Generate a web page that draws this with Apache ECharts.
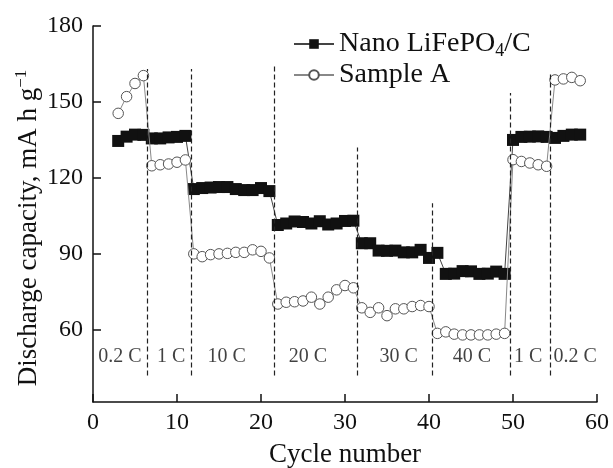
<!DOCTYPE html>
<html>
<head>
<meta charset="utf-8">
<script src="https://cdn.jsdelivr.net/npm/echarts@6.0.0/dist/echarts.min.js"></script>
<style>
  html, body { margin: 0; padding: 0; background: #fff; }
  #main { width: 613px; height: 468px; }
</style>
</head>
<body>
<div id="main"></div>
<script>
// cycle numbers (x)
var cycles = [3, 4, 5, 6,
  7, 8, 9, 10, 11,
  12, 13, 14, 15, 16, 17, 18, 19, 20, 21,
  22, 23, 24, 25, 26, 27, 28, 29, 30, 31,
  32, 33, 34, 35, 36, 37, 38, 39, 40, 41,
  42, 43, 44, 45, 46, 47, 48, 49,
  50, 51, 52, 53, 54,
  55, 56, 57, 58];

// Nano LiFePO4/C, mA h g-1
var nanoCap = [134.6, 136.3, 137.1, 137.0,
  135.6, 135.6, 136.0, 136.2, 136.6,
  115.6, 116.0, 116.2, 116.4, 116.4, 115.6, 115.2, 115.2, 116.0, 114.8,
  101.4, 102.0, 102.8, 102.6, 102.0, 102.9, 101.6, 102.0, 103.0, 103.1,
  94.2, 94.2, 91.3, 91.2, 91.3, 90.6, 90.6, 91.6, 88.4, 90.4,
  82.1, 82.2, 83.2, 83.1, 82.1, 82.2, 83.0, 82.1,
  135.0, 136.2, 136.3, 136.4, 136.2,
  135.8, 136.6, 137.1, 137.1];

// Sample A cycles and capacity
var sampleCycles = [3, 4, 5, 6,
  7, 8, 9, 10, 11,
  12, 13, 14, 15, 16, 17, 18, 19, 20, 21,
  22, 23, 24, 25, 26, 27, 28, 29, 30, 31,
  32, 33, 34, 35, 36, 37, 38, 39, 40,
  41, 42, 43, 44, 45, 46, 47, 48, 49,
  50, 51, 52, 53, 54,
  55, 56, 57, 58];
var sampleCap = [145.5, 152.1, 157.3, 160.4,
  124.8, 125.2, 125.5, 126.2, 127.1,
  90.0, 88.9, 89.7, 90.0, 90.2, 90.6, 90.6, 91.6, 91.0, 88.4,
  70.2, 70.9, 71.1, 71.4, 72.9, 70.2, 72.9, 75.8, 77.5, 76.6,
  68.7, 66.9, 68.7, 65.6, 68.3, 68.3, 69.2, 69.6, 69.2,
  58.6, 59.2, 58.3, 58.0, 58.0, 58.0, 58.0, 58.3, 58.6,
  127.2, 126.5, 125.9, 125.2, 124.6,
  158.7, 159.1, 159.7, 158.4];

// C-rate labels and divider lines
var rateNames = ['0.2 C', '1 C', '10 C', '20 C', '30 C', '40 C', '1 C', '0.2 C'];
var rateX = [3.2, 9.3, 15.9, 25.6, 36.4, 45.1, 51.8, 57.4];
var rateY = 49.4;
var dividerX = [6.5, 11.7, 21.6, 31.4, 40.4, 49.7, 54.4];
var dividerTop = [163, 163, 164, 132, 110, 153.5, 161.3];
var dividerBottom = 42;

var yTicks = [60, 90, 120, 150, 180];

var nanoName = 'Nano LiFePO4/C';
var sampleName = 'Sample A';
var serif = '"Liberation Serif", "DejaVu Serif", serif';

(function(){
    var myChart = echarts.init(document.getElementById('main'), null, {renderer: 'canvas'});

    var nanoData = cycles.map(function(c, i){ return [c, nanoCap[i]]; });
    var sampleData = sampleCycles.map(function(c, i){ return [c, sampleCap[i]]; });
    var rateData = rateNames.map(function(n, i){ return {name: n, value: [rateX[i], rateY]}; });
    var dividers = dividerX.map(function(x, i){
        return [{coord: [x, dividerBottom]}, {coord: [x, dividerTop[i]]}];
    });

    var option = {
        animation: false,
        backgroundColor: '#fff',
        grid: {
            left: 93,
            right: 16,
            top: 26,
            bottom: 66,
            containLabel: false,
            outerBoundsMode: 'none'
        },
        legend: {
            data: [nanoName, sampleName],
            orient: 'vertical',
            left: 288,
            top: 25,
            itemWidth: 40,
            itemHeight: 12,
            itemGap: 1,
            formatter: function(name){
                return name === nanoName ? 'Nano LiFePO{sub|4}/C' : name;
            },
            textStyle: {
                fontFamily: serif,
                fontSize: 28,
                lineHeight: 26,
                color: '#111',
                rich: {
                    sub: { fontFamily: serif, fontSize: 18, padding: [14, 0, 0, 0], verticalAlign: 'middle', color: '#111' }
                }
            }
        },
        xAxis: {
            type: 'value',
            min: 0,
            max: 60,
            interval: 10,
            name: 'Cycle number',
            nameLocation: 'middle',
            nameGap: 39,
            nameMoveOverlap: false,
            nameTextStyle: { fontFamily: serif, fontSize: 27, color: '#111' },
            axisLine: { lineStyle: { color: '#111', width: 1.5 } },
            axisTick: { inside: true, length: 8, lineStyle: { color: '#111', width: 1.5 } },
            axisLabel: { fontFamily: serif, fontSize: 24, color: '#111', margin: 9 },
            splitLine: { show: false }
        },
        yAxis: {
            type: 'value',
            min: 31.5,
            max: 180,
            name: 'Discharge capacity, mA h g{sup|−1}',
            nameLocation: 'middle',
            nameGap: 48,
            nameRotate: 90,
            nameMoveOverlap: false,
            nameTextStyle: {
                fontFamily: serif, fontSize: 27, lineHeight: 32, color: '#111',
                padding: [0, 28, 0, 0],
                rich: {
                    sup: { fontFamily: serif, fontSize: 17, lineHeight: 14, verticalAlign: 'top', color: '#111' }
                }
            },
            axisLine: { show: true, lineStyle: { color: '#111', width: 1.5 } },
            axisTick: { show: true, inside: true, length: 8, customValues: yTicks, lineStyle: { color: '#111', width: 1.5 } },
            axisLabel: { fontFamily: serif, fontSize: 24, color: '#111', margin: 10, customValues: yTicks },
            splitLine: { show: false }
        },
        series: [
            {
                name: nanoName,
                type: 'line',
                data: nanoData,
                symbol: 'rect',
                symbolSize: 12,
                itemStyle: { color: '#111', borderWidth: 0 },
                lineStyle: { color: '#444', width: 1 },
                z: 3
            },
            {
                name: sampleName,
                type: 'line',
                data: sampleData,
                symbol: 'circle',
                symbolSize: 10.5,
                itemStyle: { color: '#fff', borderColor: '#555', borderWidth: 1 },
                lineStyle: { color: '#888', width: 1 },
                z: 4
            },
            {
                name: 'rates',
                type: 'scatter',
                data: rateData,
                symbolSize: 1,
                itemStyle: { color: 'transparent' },
                silent: true,
                label: {
                    show: true,
                    position: 'inside',
                    formatter: '{b}',
                    fontFamily: serif,
                    fontSize: 20,
                    color: '#111'
                },
                markLine: {
                    silent: true,
                    symbol: ['none', 'none'],
                    label: { show: false },
                    lineStyle: { type: [5, 3], color: '#222', width: 1.2 },
                    data: dividers
                },
                z: 2
            }
        ]
    };
    myChart.setOption(option);
    window.addEventListener("resize", function(){
        myChart.resize();
    });
})();
</script>
</body>
</html>
